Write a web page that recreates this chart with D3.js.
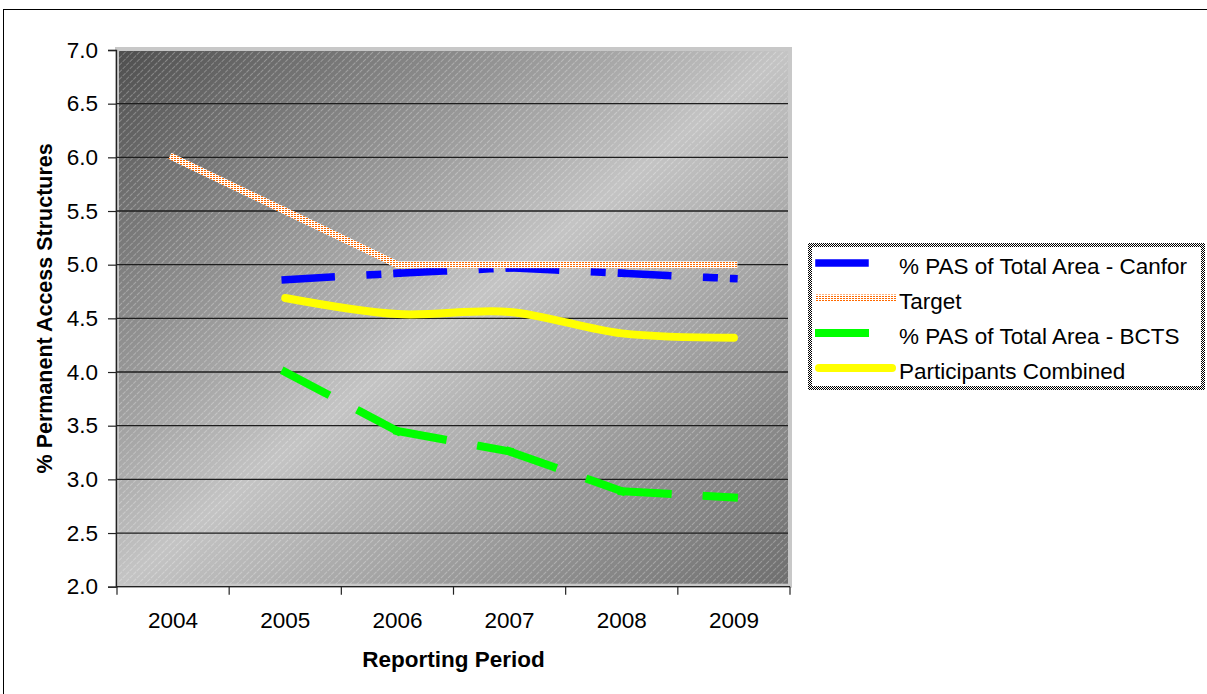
<!DOCTYPE html>
<html>
<head>
<meta charset="utf-8">
<script src="https://cdn.jsdelivr.net/npm/d3@7"></script>
<style>
  html, body { margin: 0; padding: 0; background: #ffffff; }
  svg { display: block; font-family: "Liberation Sans", Arial, sans-serif; }
</style>
</head>
<body>
<svg id="chart" width="1207" height="694"></svg>
<script>
// Reporting periods and series values (% permanent access structures)
const years = ["2004", "2005", "2006", "2007", "2008", "2009"];
const canfor = [null, 4.86, 4.92, 4.97, 4.92, 4.87];
const target = [6.0, 5.5, 5.0, 5.0, 5.0, 5.0];
const bcts = [null, 4.0, 3.45, 3.26, 2.89, 2.83];
const combined = [null, 4.69, 4.54, 4.56, 4.36, 4.32];
const yTicks = [2.0, 2.5, 3.0, 3.5, 4.0, 4.5, 5.0, 5.5, 6.0, 6.5, 7.0];
const seriesNames = ["% PAS of Total Area - Canfor", "Target", "% PAS of Total Area - BCTS", "Participants Combined"];

const svg = d3.select("#chart");
const plot = { left: 117, right: 790, top: 50, bottom: 586.7 };
const fontSize = 22.5;

const x = d3.scaleBand().domain(years).range([plot.left, plot.right]);
const cx = d => x(d) + x.bandwidth() / 2;
const y = d3.scaleLinear().domain([2, 7]).range([plot.bottom, plot.top]);

const defs = svg.append("defs");

// Diagonal grey shading of the plot area
const grad = defs.append("linearGradient").attr("id", "plotShade")
  .attr("x1", 0).attr("y1", 0).attr("x2", 1).attr("y2", 1);
grad.append("stop").attr("offset", 0).attr("stop-color", "#4e4e4e");
grad.append("stop").attr("offset", 0.5).attr("stop-color", "#c4c4c4");
grad.append("stop").attr("offset", 1).attr("stop-color", "#6e6e6e");

// Fine light hatching over the shading
const hatch = defs.append("pattern").attr("id", "hatch")
  .attr("patternUnits", "userSpaceOnUse").attr("width", 5).attr("height", 5)
  .attr("patternTransform", "rotate(45)");
hatch.append("line").attr("x1", 0.5).attr("y1", 0).attr("x2", 0.5).attr("y2", 5)
  .attr("stroke", "#ffffff").attr("stroke-opacity", 0.28).attr("stroke-width", 1)
  .attr("stroke-dasharray", "2 1");

// Orange dotted fill used for the target line
const dots = defs.append("pattern").attr("id", "dots")
  .attr("patternUnits", "userSpaceOnUse").attr("width", 3).attr("height", 2);
dots.append("rect").attr("width", 3).attr("height", 2).attr("fill", "#ffffff");
dots.append("rect").attr("width", 2).attr("height", 1).attr("fill", "#ff6a00");

// Checker used for the legend frame
const checker = defs.append("pattern").attr("id", "checker")
  .attr("patternUnits", "userSpaceOnUse").attr("width", 2).attr("height", 2);
checker.append("rect").attr("width", 2).attr("height", 2).attr("fill", "#ffffff");
checker.append("rect").attr("width", 1).attr("height", 1).attr("fill", "#000000");
checker.append("rect").attr("x", 1).attr("y", 1).attr("width", 1).attr("height", 1).attr("fill", "#000000");

// Outer chart frame
svg.append("rect").attr("x", 3.5).attr("y", 9.5).attr("width", 1215).attr("height", 700)
  .attr("fill", "#ffffff").attr("stroke", "#000000").attr("stroke-width", 1);

// Plot area
svg.append("rect").attr("x", plot.left).attr("y", plot.top - 1)
  .attr("width", plot.right - plot.left).attr("height", plot.bottom - plot.top)
  .attr("fill", "url(#plotShade)");
svg.append("rect").attr("x", plot.left).attr("y", plot.top - 1)
  .attr("width", plot.right - plot.left).attr("height", plot.bottom - plot.top)
  .attr("fill", "url(#hatch)")
  .attr("stroke", "#c8c8c8").attr("stroke-width", 4);

// Horizontal gridlines
svg.append("g").selectAll("line")
  .data(yTicks.filter(v => v > 2 && v < 7))
  .join("line")
  .attr("x1", plot.left).attr("x2", plot.right - 2)
  .attr("y1", d => y(d)).attr("y2", d => y(d))
  .attr("stroke", "#1e1e1e").attr("stroke-width", 1.3);

// Y axis
const yAxis = svg.append("g").attr("transform", `translate(${plot.left - 1},0)`)
  .call(d3.axisLeft(y).tickValues(yTicks).tickSize(8).tickPadding(10).tickFormat(d3.format(".1f")));
yAxis.select(".domain").attr("stroke", "#222").attr("stroke-width", 1.3);
yAxis.selectAll(".tick line").attr("stroke", "#222").attr("stroke-width", 1.2);
yAxis.selectAll(".tick text").attr("font-size", fontSize).attr("fill", "#000")
  .attr("font-family", "'Liberation Sans', Arial, sans-serif");

// X axis: line, ticks between categories, centred labels
const xg = svg.append("g");
xg.append("line").attr("x1", plot.left - 1).attr("x2", plot.right)
  .attr("y1", plot.bottom).attr("y2", plot.bottom)
  .attr("stroke", "#222").attr("stroke-width", 1.3);
const bounds = years.map(d => x(d)).concat([x(years[years.length - 1]) + x.bandwidth()]);
xg.selectAll("line.tick").data(bounds).join("line").attr("class", "tick")
  .attr("x1", d => d).attr("x2", d => d)
  .attr("y1", plot.bottom).attr("y2", plot.bottom + 8)
  .attr("stroke", "#222").attr("stroke-width", 1.2);
xg.selectAll("text").data(years).join("text")
  .attr("x", d => cx(d)).attr("y", plot.bottom + 41)
  .attr("text-anchor", "middle").attr("font-size", fontSize).text(d => d);

// Axis titles
svg.append("text").attr("x", (plot.left + plot.right) / 2).attr("y", 667)
  .attr("text-anchor", "middle").attr("font-size", 22.5).attr("font-weight", "bold")
  .text("Reporting Period");
svg.append("text").attr("transform", `translate(52,${(plot.top + plot.bottom) / 2 - 10}) rotate(-90)`)
  .attr("text-anchor", "middle").attr("font-size", 21.5).attr("font-weight", "bold")
  .text("% Permanent Access Structures");

const pts = vals => years.map((d, i) => ({ year: d, v: vals[i] })).filter(p => p.v != null);
const line = d3.line().x(p => cx(p.year)).y(p => y(p.v));

// Dashed series: each segment restarts its dash pattern
function dashedSeries(vals, color, width, dash) {
  const p = pts(vals);
  const g = svg.append("g");
  for (let i = 0; i < p.length - 1; i++) {
    g.append("path").attr("d", line([p[i], p[i + 1]]))
      .attr("fill", "none").attr("stroke", color).attr("stroke-width", width)
      .attr("stroke-dasharray", dash).attr("stroke-linecap", "square");
  }
}

const canforDash = "46 39 7.5 19.5";
const bctsDash = "46 39";

dashedSeries(canfor, "#0000ff", 7.5, canforDash);

svg.append("path").attr("d", line(pts(target)))
  .attr("fill", "none").attr("stroke", "url(#dots)").attr("stroke-width", 7)
  .attr("stroke-linecap", "square").attr("stroke-linejoin", "miter");

dashedSeries(bcts, "#00ff00", 8, bctsDash);

svg.append("path").attr("d", d3.line().x(p => cx(p.year)).y(p => y(p.v))
    .curve(d3.curveCatmullRom.alpha(0.5))(pts(combined)))
  .attr("fill", "none").attr("stroke", "#ffff00").attr("stroke-width", 8)
  .attr("stroke-linecap", "round");

// Legend
const legend = svg.append("g");
legend.append("rect").attr("x", 810).attr("y", 245).attr("width", 393).attr("height", 143)
  .attr("fill", "#ffffff").attr("stroke", "url(#checker)").attr("stroke-width", 4);
const legendRows = [
  { name: seriesNames[0], stroke: "#0000ff", width: 7.5, dash: canforDash, cap: "square" },
  { name: seriesNames[1], stroke: "url(#dots)", width: 7, dash: null, cap: "butt" },
  { name: seriesNames[2], stroke: "#00ff00", width: 8, dash: bctsDash, cap: "square" },
  { name: seriesNames[3], stroke: "#ffff00", width: 8, dash: null, cap: "round" }
];
legendRows.forEach((r, i) => {
  const ly = 263 + i * 35;
  const x1 = r.cap === "butt" ? 815 : 819;
  const x2 = r.cap === "butt" ? 896 : 892;
  legend.append("line").attr("x1", x1).attr("x2", x2).attr("y1", ly).attr("y2", ly)
    .attr("stroke", r.stroke).attr("stroke-width", r.width)
    .attr("stroke-dasharray", r.dash).attr("stroke-linecap", r.cap);
  legend.append("text").attr("x", 899).attr("y", ly + 10.5)
    .attr("font-size", fontSize).attr("fill", "#000").text(r.name);
});
</script>
</body>
</html>
